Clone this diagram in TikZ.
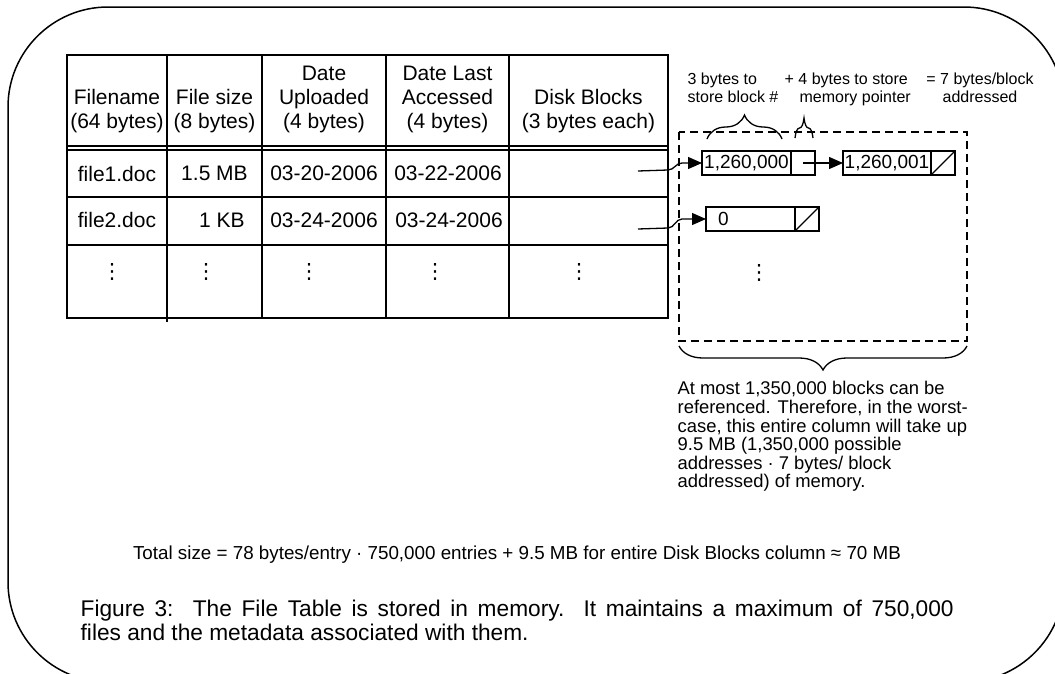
\documentclass[tikz,border=0pt]{standalone}
\usepackage{fontspec}
\setmainfont{Liberation Sans}
\newfontfamily\symfont{DejaVu Sans}
\usetikzlibrary{positioning,arrows.meta,decorations.pathreplacing}
\newcommand{\rowdots}{{\symfont ⋮}}

\begin{document}
\begin{tikzpicture}[x=1pt,y=-1pt,line width=1.3pt,
    cell/.style={font=\fontsize{21}{24}\selectfont,align=center,inner sep=0pt},
    note/.style={font=\fontsize{16}{18}\selectfont,inner sep=0pt},
    memo/.style={font=\fontsize{18.4}{18.6}\selectfont,inner sep=0pt},
    blk/.style={draw,minimum height=24pt,inner sep=0pt,outer sep=0pt,font=\fontsize{19}{22}\selectfont},
    ptrbox/.style={draw,minimum height=24pt,minimum width=24pt,inner sep=0pt,outer sep=0pt},
    ptr/.style={-{Triangle[length=14pt,width=12pt]}},
    dashbox/.style={dash pattern=on 8pt off 5pt},
    brc/.style={decorate,decoration={brace,amplitude=#1}}]
  \useasboundingbox (0,0) rectangle (1055,673);
  % frame
  \draw[line width=1.5pt,rounded corners=100pt] (8,7) rectangle (1064,682);

  % table grid
  \draw (67,55) rectangle (668,318);
  \draw (67,146) -- (668,146) (67,150) -- (668,150)
        (67,197) -- (668,197) (67,245) -- (668,245);
  \draw (167,55) -- (167,322);
  \foreach \x in {262,386,509} \draw (\x,55) -- (\x,318);

  % header
  \node[cell,anchor=south] (hname) at (117,134) {Filename\\(64 bytes)};
  \node[cell,anchor=south] (hsize) at (214.5,134) {File size\\(8 bytes)};
  \node[cell,anchor=south] (hup) at (324,134) {Date\\Uploaded\\(4 bytes)};
  \node[cell,anchor=south] (hacc) at (447.5,134) {Date Last\\Accessed\\(4 bytes)};
  \node[cell,anchor=south] (hblk) at (588.5,134) {Disk Blocks\\(3 bytes each)};

  % rows
  \node[cell] (r1name) at (117,173.5) {file1.doc};
  \node[cell] (r1size) at (214.5,173.5) {1.5 MB};
  \node[cell] (r1up) at (324,173.5) {03-20-2006};
  \node[cell] (r1acc) at (448,173.5) {03-22-2006};
  \node[cell] (r2name) at (117,220) {file2.doc};
  \node[cell] (r2size) at (222,220) {1 KB};
  \node[cell] (r2up) at (324,220) {03-24-2006};
  \node[cell] (r2acc) at (449,220) {03-24-2006};
  \foreach \x/\n in {112/d1,206/d2,309/d3,435/d4,579/d5}
    \node[cell] (\n) at (\x,272) {\rowdots};

  % block list
  \draw[dashbox] (679,132) rectangle (967,341);
  \node[blk,minimum width=89pt] (b1) at (746.5,163) {1,260,000};
  \node[ptrbox,right=0pt of b1] (b1p) {};
  \node[blk,minimum width=88pt] (b2) at (887,163) {1,260,001};
  \node[ptrbox,right=0pt of b2] (b2p) {};
  \draw (b2p.south west) -- (b2p.north east);
  \node[blk,text width=89pt,align=left] (b3) at (750.5,219) {\hspace*{12pt}0};
  \node[ptrbox,right=0pt of b3] (b3p) {};
  \draw (b3p.south west) -- (b3p.north east);
  \node[cell] (bdots) at (759,273) {\rowdots};

  % pointers
  \coordinate (r1out) at (638,171);
  \coordinate (r2out) at (638,229);
  \draw[ptr] (r1out) -- ++(30,-1) to[out=0,in=180] ++(14,-7) -- (b1.west);
  \draw[ptr] (r2out) -- ++(30,-1) to[out=0,in=180] ++(14,-9) -- (b3.west);
  \draw[ptr] (b1p.center) -- (b2.west);

  % braces
  \draw[brc=24pt] (707,139) -- (782,139);
  \draw[brc=20pt] (795,138) -- (813,138);
  \draw[brc=24pt] (967,346) -- (679,346);

  % labels
  \node[note,align=left,anchor=north west] (lblock) at (687,72) {3 bytes to\\store block \#};
  \node[note,align=left,anchor=north west] (lptr) at (784,72) {+ 4 bytes to store\\\hspace*{15pt}memory pointer};
  \node[note,align=center,anchor=north] (laddr) at (980,72) {= 7 bytes/block\\addressed};
  \node[memo,align=left,anchor=north west] (worst) at (677,381) {At most 1,350,000 blocks can be\\
    referenced. Therefore, in the worst-\\case, this entire column will take up\\
    9.5 MB (1,350,000 possible\\addresses · 7 bytes/ block\\addressed) of memory.};
  \node[note,font=\fontsize{18.8}{20}\selectfont] (total) at (517,555) {Total size = 78 bytes/entry · 750,000 entries + 9.5 MB for entire Disk Blocks column ≈ 70 MB};
  \node[cell,font=\fontsize{22.7}{24.5}\selectfont,align=left,anchor=north west] (caption) at (80,599) {\makebox[873pt][s]{Figure 3:\ \ The File Table is stored in memory.\ \ It maintains a maximum of 750,000}\\
    files and the metadata associated with them.};
\end{tikzpicture}
\end{document}
